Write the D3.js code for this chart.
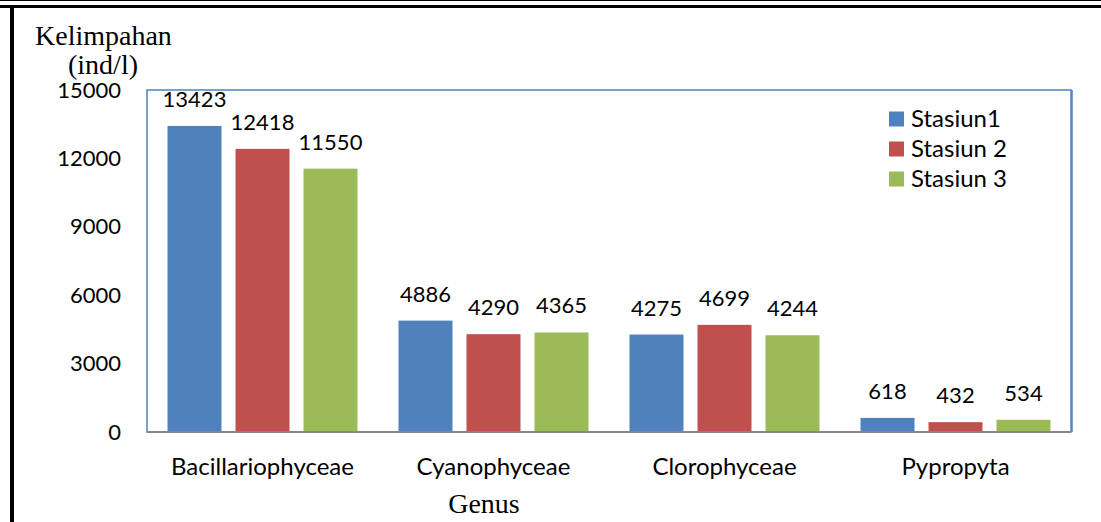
<!DOCTYPE html>
<html><head><meta charset="utf-8">
<script src="https://cdn.jsdelivr.net/npm/d3@7"></script>
<style>body{margin:0;background:#fff}svg{display:block}</style>
</head><body>
<script>
const categories = ["Bacillariophyceae","Cyanophyceae","Clorophyceae","Pypropyta"];
const seriesNames = ["Stasiun1","Stasiun 2","Stasiun 3"];
const stasiun1 = [13423,4886,4275,618];
const stasiun2 = [12418,4290,4699,432];
const stasiun3 = [11550,4365,4244,534];
const yTicks = [0,3000,6000,9000,12000,15000];
const colors = ["#4F81BD","#C0504D","#9BBB59"];
const seriesValues = [stasiun1, stasiun2, stasiun3];

(function(){
const W = 1101, H = 522;
const svg = d3.select("body").append("svg").attr("width", W).attr("height", H);
const numFont = "Lato, 'Open Sans', sans-serif";

// outer frame lines
svg.append("rect").attr("x",0).attr("y",0).attr("width",W).attr("height",1).attr("fill","#000");
svg.append("rect").attr("x",0).attr("y",5).attr("width",W).attr("height",3).attr("fill","#000");
svg.append("rect").attr("x",10).attr("y",5).attr("width",4).attr("height",H-5).attr("fill","#000");

const pL = 147, pR = 1071, pT = 90, pB = 432;
const x0 = d3.scaleBand().domain(categories).range([pL, pR]).padding(0);
const x1 = d3.scaleBand().domain(seriesNames).range([20.5, x0.bandwidth()-20.5]).paddingInner(14/68).paddingOuter(0);
const y = d3.scaleLinear().domain([0,15000]).range([pB, pT]);

// plot border
svg.append("rect").attr("x",pL).attr("y",pT).attr("width",pR-pL).attr("height",pB-pT)
  .attr("fill","none").attr("stroke","#4F81BD").attr("stroke-width",1.5);
svg.append("line").attr("x1",pR+1).attr("x2",pR+1).attr("y1",pT).attr("y2",pB)
  .attr("stroke","#4F81BD").attr("stroke-width",1.5);

// bars
const data = [];
categories.forEach((c,i)=>seriesNames.forEach((s,j)=>data.push({c,s,j,v:seriesValues[j][i]})));
const g = svg.append("g");
g.selectAll("rect.bar").data(data).join("rect").attr("class","bar")
  .attr("x", d=>x0(d.c)+x1(d.s)).attr("width", x1.bandwidth())
  .attr("y", d=>y(d.v)).attr("height", d=>pB-y(d.v))
  .attr("fill", d=>colors[d.j]);
g.selectAll("text.lbl").data(data).join("text").attr("class","lbl")
  .attr("x", d=>x0(d.c)+x1(d.s)+x1.bandwidth()/2).attr("y", d=>y(d.v)-19)
  .attr("text-anchor","middle").attr("font-family",numFont).attr("font-size",22).attr("fill","#000")
  .text(d=>d.v);

// x axis line
svg.append("line").attr("x1",pL).attr("x2",pR).attr("y1",pB).attr("y2",pB)
  .attr("stroke","#868686").attr("stroke-width",2);

// y axis labels
const yAxis = d3.axisLeft(y).tickValues(yTicks).tickSize(0).tickPadding(26).tickFormat(d3.format("d"));
const ya = svg.append("g").attr("transform",`translate(${pL},0)`).call(yAxis);
ya.select(".domain").remove();
ya.selectAll("text").attr("font-family",numFont).attr("font-size",22).attr("fill","#000");

// x axis labels
const xAxis = d3.axisBottom(x0).tickSize(0).tickPadding(26);
const xa = svg.append("g").attr("transform",`translate(0,${pB})`).call(xAxis);
xa.select(".domain").remove();
xa.selectAll("text").attr("font-family",numFont).attr("font-size",24).attr("fill","#000");

// titles
const serif = "'Liberation Serif','Times New Roman',serif";
svg.append("text").attr("x",35).attr("y",45).attr("font-family",serif).attr("font-size",28).text("Kelimpahan");
svg.append("text").attr("x",68).attr("y",74).attr("font-family",serif).attr("font-size",28).text("(ind/l)");
svg.append("text").attr("x",484).attr("y",513).attr("text-anchor","middle").attr("font-family",serif).attr("font-size",28).text("Genus");

// legend
const lg = svg.append("g");
seriesNames.forEach((s,j)=>{
  const cy = 119 + j*30;
  lg.append("rect").attr("x",889).attr("y",cy-7.5).attr("width",15).attr("height",15).attr("fill",colors[j]);
  lg.append("text").attr("x",911).attr("y",cy+8).attr("font-family",numFont).attr("font-size",24).text(s);
});
})();
</script>
</body></html>
